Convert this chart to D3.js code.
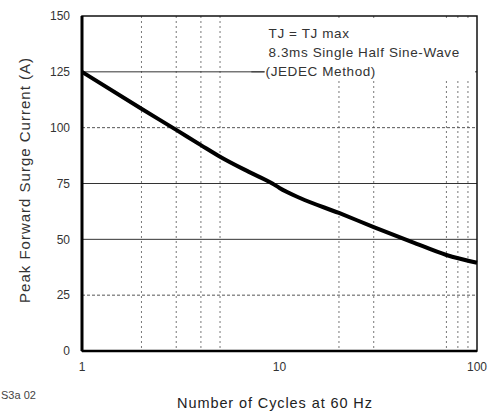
<!DOCTYPE html>
<html>
<head>
<meta charset="utf-8">
<script src="https://cdn.jsdelivr.net/npm/d3@7"></script>
<style>
  body { margin: 0; background: #fff; }
  svg { display: block; font-family: "Liberation Sans", Arial, sans-serif; }
</style>
</head>
<body>
<svg id="chart"></svg>
<script>
// surge current vs number of cycles
const cycles = [1, 2, 3, 4, 5, 7, 9.2, 10, 12.7, 20, 30, 47, 70, 100];
const current = [125, 108.5, 99, 92.2, 87, 80.2, 75, 73, 68.5, 61.8, 55.5, 48.8, 43, 39.5];

const yTicks = [0, 25, 50, 75, 100, 125, 150];
const xTicks = [1, 10, 100];
const xGrid = [2, 3, 4, 5, 20, 30, 70, 80, 90];
const yGrid = [25, 50, 75, 100, 125];
const yGridDotted = [25, 100];

const notes = ['TJ = TJ max', '8.3ms Single Half Sine-Wave', '(JEDEC Method)'];

const width = 489, height = 413;
const margin = { top: 16, right: 12, bottom: 62, left: 82 };

const svg = d3.select('#chart')
    .attr('width', width)
    .attr('height', height);

const innerW = width - margin.left - margin.right;
const innerH = height - margin.top - margin.bottom;

const chart = svg.append('g')
    .attr('transform', `translate(${margin.left}, ${margin.top})`);

const xscale = d3.scaleLog().domain([1, 100]).range([0, innerW]);
const yscale = d3.scaleLinear().domain([0, 150]).range([innerH, 0]);

// grid
chart.append('g').selectAll('line')
    .data(xGrid).enter()
    .append('line')
    .attr('x1', d => xscale(d)).attr('x2', d => xscale(d))
    .attr('y1', 0).attr('y2', innerH)
    .attr('stroke', '#777')
    .attr('stroke-width', 1)
    .attr('stroke-dasharray', '2,3');

chart.append('g').selectAll('line')
    .data(yGrid).enter()
    .append('line')
    .attr('x1', 0).attr('x2', innerW)
    .attr('y1', d => yscale(d)).attr('y2', d => yscale(d))
    .attr('stroke', d => yGridDotted.includes(d) ? '#555' : '#333')
    .attr('stroke-width', 1)
    .attr('stroke-dasharray', d => yGridDotted.includes(d) ? '3,2' : null);

// white box behind the notes
const noteX = xscale(8.4);
chart.append('rect')
    .attr('x', noteX).attr('y', 2)
    .attr('width', innerW - noteX - 2).attr('height', yscale(125) + 6)
    .attr('fill', '#fff');

chart.append('line')
    .attr('x1', xscale(7.2)).attr('x2', noteX)
    .attr('y1', yscale(125)).attr('y2', yscale(125))
    .attr('stroke', '#333');

// frame
chart.append('rect')
    .attr('width', innerW).attr('height', innerH)
    .attr('fill', 'none')
    .attr('stroke', '#111')
    .attr('stroke-width', 1.5);

chart.append('line')
    .attr('x1', 0).attr('x2', 0).attr('y1', 0).attr('y2', innerH)
    .attr('stroke', '#000').attr('stroke-width', 3);

chart.append('line')
    .attr('x1', 0).attr('x2', innerW).attr('y1', innerH).attr('y2', innerH)
    .attr('stroke', '#000').attr('stroke-width', 2.5);

// curve
const line = d3.line()
    .x((d, i) => xscale(cycles[i]))
    .y(d => yscale(d))
    .curve(d3.curveMonotoneX);

chart.append('path')
    .datum(current)
    .attr('d', line)
    .attr('fill', 'none')
    .attr('stroke', '#000')
    .attr('stroke-width', 4)
    .attr('stroke-linejoin', 'round');

// tick labels
chart.append('g').selectAll('text')
    .data(yTicks).enter()
    .append('text')
    .attr('x', -12)
    .attr('y', d => yscale(d))
    .attr('dy', '0.35em')
    .attr('text-anchor', 'end')
    .attr('font-size', '12px')
    .attr('fill', '#333')
    .text(d => d);

chart.append('g').selectAll('text')
    .data(xTicks).enter()
    .append('text')
    .attr('x', d => xscale(d))
    .attr('y', innerH + 20)
    .attr('text-anchor', 'middle')
    .attr('font-size', '12px')
    .attr('fill', '#333')
    .text(d => d);

// notes
chart.append('g').selectAll('text')
    .data(notes).enter()
    .append('text')
    .attr('x', (d, i) => i === 2 ? noteX + 1 : noteX + 4)
    .attr('y', (d, i) => 22 + i * 19)
    .attr('font-size', '13.5px')
    .attr('letter-spacing', '0.6px')
    .attr('fill', '#333')
    .text(d => d);

// axis titles
svg.append('text')
    .attr('transform', 'translate(30, 180) rotate(-90)')
    .attr('text-anchor', 'middle')
    .attr('font-size', '15px')
    .attr('letter-spacing', '1px')
    .attr('fill', '#333')
    .text('Peak Forward Surge Current (A)');

svg.append('text')
    .attr('x', 275)
    .attr('y', 408)
    .attr('text-anchor', 'middle')
    .attr('font-size', '14.5px')
    .attr('letter-spacing', '0.9px')
    .attr('fill', '#222')
    .text('Number of Cycles at 60 Hz');

svg.append('text')
    .attr('x', 1)
    .attr('y', 399)
    .attr('font-size', '11px')
    .attr('fill', '#444')
    .text('S3a 02');
</script>
</body>
</html>
